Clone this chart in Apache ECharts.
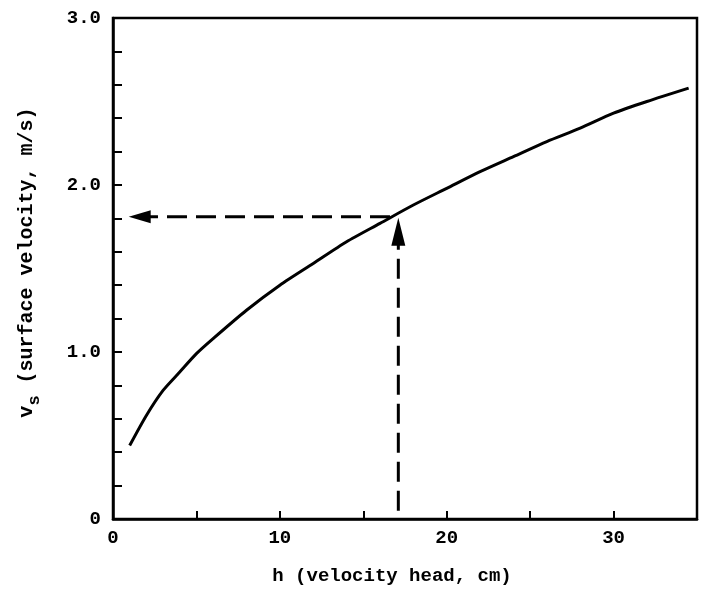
<!DOCTYPE html>
<html>
<head>
<meta charset="utf-8">
<script src="https://cdn.jsdelivr.net/npm/echarts@6/dist/echarts.min.js"></script>
<style>
  html, body { margin: 0; padding: 0; background: #fff; }
  #chart { width: 702px; height: 592px; }
</style>
</head>
<body>
<div id="chart"></div>
<script>
// curve: h (cm) vs surface velocity (m/s)
const hData = [1, 2, 3, 4, 5, 6, 8, 10, 12, 14, 16, 18, 20, 22, 24, 26, 28, 30, 32, 34.5];
const vData = [0.44, 0.62, 0.77, 0.88, 0.99, 1.08, 1.25, 1.40, 1.53, 1.66, 1.77, 1.88, 1.98, 2.08, 2.17, 2.26, 2.34, 2.43, 2.50, 2.58];

// dashed read-off lines (start, end)
const hArrowX = [16.6, 1.6];
const hArrowY = [1.81, 1.81];
const vArrowX = [17.1, 17.1];
const vArrowY = [0.05, 1.72];

const xLabels = [0, 10, 20, 30];
const yLabels = { 0: '0', 1: '1.0', 2: '2.0', 3: '3.0' };

const font = 'Liberation Mono';
const ink = '#000';

const curve = hData.map((h, i) => [h, vData[i]]);

const option = {
  animation: false,
  backgroundColor: '#fff',
  grid: {
    left: 113,
    right: 5,
    top: 18,
    bottom: 73,
    show: true,
    borderColor: ink,
    borderWidth: 2.5
  },
  xAxis: {
    type: 'value',
    min: 0,
    max: 35,
    interval: 5,
    name: 'h (velocity head, cm)',
    nameLocation: 'middle',
    nameGap: 48,
    nameTextStyle: {
      color: ink,
      fontFamily: font,
      fontWeight: 'bold',
      fontSize: 19,
      padding: [0, 26, 0, 0]
    },
    axisLine: { lineStyle: { color: ink, width: 2.5 } },
    axisTick: { inside: true, length: 8, lineStyle: { color: ink, width: 2 } },
    splitLine: { show: false },
    axisLabel: {
      color: ink,
      fontFamily: font,
      fontWeight: 'bold',
      fontSize: 19,
      margin: 10,
      formatter: v => (xLabels.indexOf(v) >= 0 ? String(v) : '')
    }
  },
  yAxis: {
    type: 'value',
    min: 0,
    max: 3,
    interval: 0.2,
    name: '{v|v}{s|s}{t| (surface velocity, m/s)}',
    nameLocation: 'middle',
    nameRotate: 90,
    nameGap: 70,
    nameTextStyle: {
      color: ink,
      fontFamily: font,
      fontWeight: 'bold',
      fontSize: 19,
      padding: [0, 0, 0, 12],
      rich: {
        v: { fontFamily: font, fontWeight: 'bold', fontSize: 20, color: ink, verticalAlign: 'top' },
        s: { fontFamily: font, fontWeight: 'bold', fontSize: 17, color: ink, verticalAlign: 'top', padding: [9, 0, 0, 0] },
        t: { fontFamily: font, fontWeight: 'bold', fontSize: 20, color: ink, verticalAlign: 'top' }
      }
    },
    axisLine: { lineStyle: { color: ink, width: 2.5 } },
    axisTick: { inside: true, length: 9, lineStyle: { color: ink, width: 2 } },
    splitLine: { show: false },
    axisLabel: {
      color: ink,
      fontFamily: font,
      fontWeight: 'bold',
      fontSize: 19,
      margin: 12,
      formatter: v => {
        const r = Math.round(v);
        return Math.abs(v - r) < 1e-6 && yLabels[r] !== undefined ? yLabels[r] : '';
      }
    }
  },
  series: [
    {
      type: 'line',
      data: curve,
      smooth: 0.25,
      showSymbol: false,
      lineStyle: { color: ink, width: 3 }
    },
    {
      type: 'line',
      data: [
        { value: [hArrowX[0], hArrowY[0]], symbol: 'none' },
        { value: [hArrowX[1], hArrowY[1]], symbol: 'triangle', symbolSize: [13, 22], symbolRotate: 90 }
      ],
      itemStyle: { color: ink },
      lineStyle: { color: ink, width: 3, type: [20, 9] }
    },
    {
      type: 'line',
      data: [
        { value: [vArrowX[0], vArrowY[0]], symbol: 'none' },
        { value: [vArrowX[1], vArrowY[1]], symbol: 'triangle', symbolSize: [14, 28] }
      ],
      itemStyle: { color: ink },
      lineStyle: { color: ink, width: 3, type: [20, 9] }
    }
  ]
};

const chart = echarts.init(document.getElementById('chart'));
chart.setOption(option);
</script>
</body>
</html>
